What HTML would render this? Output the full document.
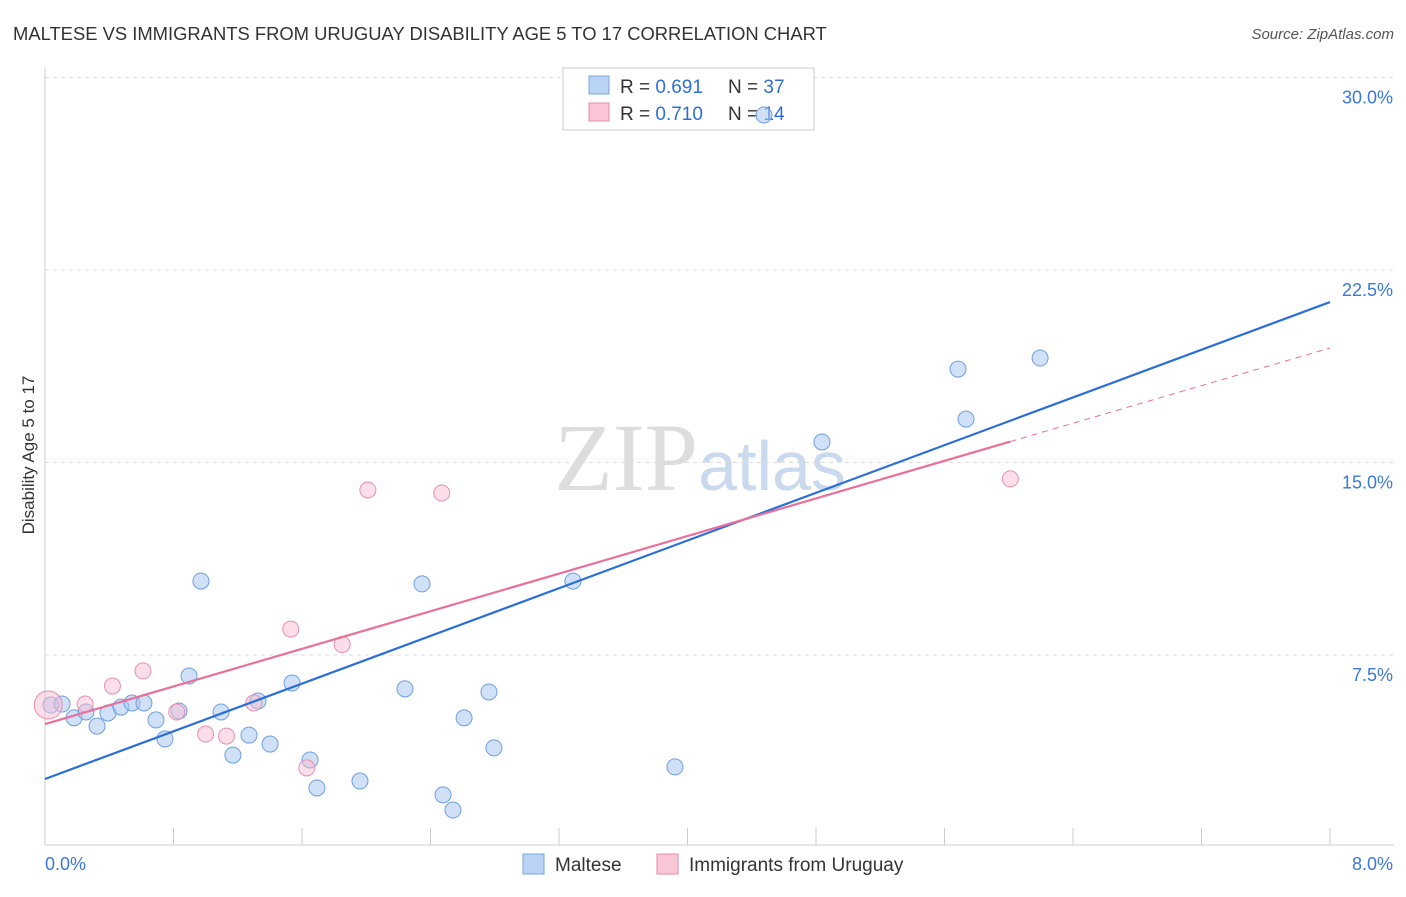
<!DOCTYPE html>
<html><head><meta charset="utf-8"><style>
body{margin:0;background:#fff;font-family:"Liberation Sans",sans-serif}
</style></head><body>
<svg id="chart" width="1406" height="892">
<text x="13" y="40" font-size="18.4" fill="#333">MALTESE VS IMMIGRANTS FROM URUGUAY DISABILITY AGE 5 TO 17 CORRELATION CHART</text>
<text x="1394" y="39" font-size="15" fill="#555" text-anchor="end" font-style="italic">Source: ZipAtlas.com</text>
<text x="34" y="455" font-size="17" fill="#333" text-anchor="middle" transform="rotate(-90 34 455)">Disability Age 5 to 17</text>
<text x="700" y="490" font-size="96" fill="#ddd" text-anchor="middle" font-family="Liberation Serif">ZIP<tspan fill="#c9d9ee" font-family="Liberation Sans" font-size="70">atlas</tspan></text>
<g id="grid"></g>
<g>
<rect x="563" y="68" width="251" height="62" fill="#fff" stroke="#ccc"/>
<rect x="589" y="76" width="20" height="18" fill="#b9d3f5" stroke="#7aa6e0"/>
<text x="620" y="93" font-size="19" fill="#333">R = <tspan fill="#2d6fd6">0.691</tspan></text>
<text x="728" y="93" font-size="19" fill="#333">N = <tspan fill="#2d6fd6">37</tspan></text>
<rect x="589" y="103" width="20" height="18" fill="#f8c6d5" stroke="#e88aa8"/>
<text x="620" y="120" font-size="19" fill="#333">R = <tspan fill="#2d6fd6">0.710</tspan></text>
<text x="728" y="120" font-size="19" fill="#333">N = <tspan fill="#2d6fd6">14</tspan></text>
</g>
<g id="marks"></g>
<g>
<rect x="523" y="854" width="21" height="20" fill="#b9d3f5" stroke="#7aa6e0"/>
<text x="555" y="871" font-size="19" fill="#333">Maltese</text>
<rect x="657" y="854" width="21" height="20" fill="#f8c6d5" stroke="#e88aa8"/>
<text x="689" y="871" font-size="19" fill="#333">Immigrants from Uruguay</text>
</g>
</svg>
<script>
const blueX=[0.037,0.106,0.181,0.255,0.324,0.392,0.473,0.542,0.616,0.691,0.747,0.834,0.897,0.971,1.096,1.170,1.270,1.326,1.401,1.538,1.650,1.693,1.961,2.241,2.347,2.478,2.540,2.609,2.764,2.795,3.287,3.922,4.837,5.684,5.734,6.195,4.476];
const blueY=[5.55,5.59,5.05,5.28,4.73,5.24,5.47,5.63,5.63,4.97,4.23,5.32,6.68,10.38,5.28,3.60,4.38,5.71,4.03,6.41,3.41,2.32,2.59,6.18,10.27,2.05,1.46,5.05,6.06,3.88,10.38,3.14,15.80,18.64,16.69,19.07,28.54];
const pinkX=[0.02,0.25,0.42,0.61,0.82,1.00,1.13,1.30,1.53,1.63,1.85,2.01,2.47,6.01];
const pinkY=[5.55,5.59,6.29,6.88,5.28,4.42,4.34,5.63,8.51,3.10,7.91,13.93,13.81,14.36];
const blueLine=[2.67,21.25];
const pinkLine=[4.81,19.46];
const pinkSolidEnd=6.01;
const yTicks=[7.5,15,22.5,30];
const xTicks=[0,8];
const sx=v=>45+v*160.625, sy=v=>847.5-v*25.667;
const NS="http://www.w3.org/2000/svg";
function mk(t,a,p){const e=document.createElementNS(NS,t);for(const k in a)e.setAttribute(k,a[k]);p.appendChild(e);return e;}
const g=document.getElementById('grid'),m=document.getElementById('marks');
mk('line',{x1:45,y1:68,x2:45,y2:845,stroke:'#ccc'},g);
mk('line',{x1:45,y1:845,x2:1394,y2:845,stroke:'#ccc'},g);
for(let i=1;i<=10;i++){const x=45+i*128.5;mk('line',{x1:x,y1:828,x2:x,y2:845,stroke:'#ccc'},g);}
yTicks.forEach(v=>{
 const l=mk('line',{x1:45,y1:sy(v),x2:1394,y2:sy(v),stroke:'#ddd','stroke-dasharray':'4,4'},g);
 
 
 const t=mk('text',{x:1393,y:sy(v)+26,'font-size':18,fill:'#3b78d8','text-anchor':'end'},g);t.textContent=v.toFixed(1)+'%';
 
 
});
xTicks.forEach((v,i)=>{const t=mk('text',{x:i?1393:45,y:870,'font-size':18,fill:'#3b78d8','text-anchor':i?'end':'start'},g);t.textContent=v.toFixed(1)+'%';
 
 });
blueX.forEach((x,i)=>{const c=mk('circle',{cx:sx(x),cy:sy(blueY[i]),r:8,fill:'rgba(170,200,240,0.55)',stroke:'#6f9ee0','stroke-width':1},m);
 
 });
pinkX.forEach((x,i)=>{const c=mk('circle',{cx:sx(x),cy:sy(pinkY[i]),r:i==0?14:8,fill:'rgba(248,190,210,0.5)',stroke:'#e890ad','stroke-width':1},m);
 
 });
const bl=mk('line',{x1:sx(0),y1:sy(blueLine[0]),x2:sx(8),y2:sy(blueLine[1]),stroke:'#2a6fd8','stroke-width':2.2},m);


const pm=v=>pinkLine[0]+(pinkLine[1]-pinkLine[0])*v/8;
const pl=mk('line',{x1:sx(0),y1:sy(pinkLine[0]),x2:sx(pinkSolidEnd),y2:sy(pm(pinkSolidEnd)),stroke:'#e8709a','stroke-width':2.2},m);


const pd=mk('line',{x1:sx(pinkSolidEnd),y1:sy(pm(pinkSolidEnd)),x2:sx(8),y2:sy(pinkLine[1]),stroke:'#e8709a','stroke-width':1,'stroke-dasharray':'6,5'},m);


</script>
</body></html>
